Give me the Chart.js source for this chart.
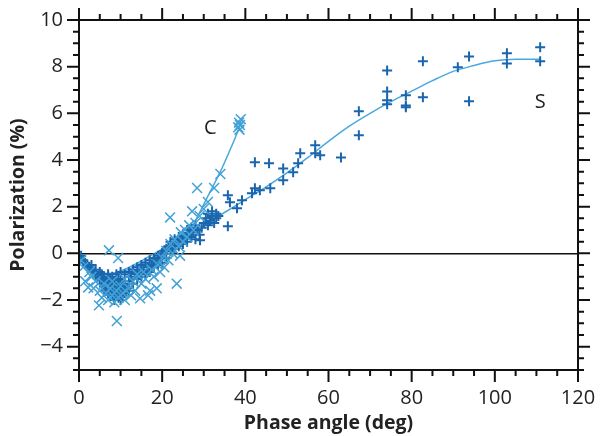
<!DOCTYPE html>
<html><head><meta charset="utf-8">
<script src="https://cdn.jsdelivr.net/npm/chart.js@4/dist/chart.umd.min.js"></script>
<style>html,body{margin:0;padding:0;background:#fff}#w{width:600px;height:436px}</style>
</head><body><div id="w"><canvas id="c" width="600" height="436"></canvas></div>
<script>
// ---- data (phase angle deg, polarization %) ----
const cPoints = [[0.5,-0.3],[1,-0.6],[1.5,-1.2],[2.2,-1.46],[2.5,-0.8],[3,-1.0],[3.5,-1.5],[4,-1.2],[4.8,-2.23],[5,-1.6],[5.5,-1.9],[6,-1.3],[6.5,-1.7],[7,-2.0],[7.2,0.13],[7.5,-1.5],[8,-1.8],[8,-1.2],[8.5,-2.1],[9,-1.6],[9.1,-2.9],[9.4,-0.2],[9.5,-1.9],[10,-1.4],[10.5,-1.7],[11,-2.0],[11,-1.1],[12,-1.5],[12.5,-1.8],[13,-1.2],[13.5,-1.6],[14,-0.9],[14.7,-1.93],[15,-1.3],[15.5,-0.8],[16,-1.1],[16.6,-1.8],[17.1,-1.6],[17.5,-0.7],[18,-1.0],[18.7,-1.5],[19,-0.5],[19.5,-0.8],[20,-0.2],[20.5,-0.6],[21,0.1],[21.5,-0.3],[21.9,1.54],[22,0.4],[22.5,0.0],[23,0.6],[23.5,-1.3],[24,0.3],[24.3,-0.1],[24.5,0.9],[25,0.5],[25.5,1.0],[26,0.7],[26.5,1.2],[27.2,1.8],[27.5,1.0],[28.4,2.8],[28,1.3],[29,1.6],[30,1.9],[31,2.2],[32.5,2.8],[34,3.4],[38.3,5.4],[38.5,5.6],[38.7,5.5],[38.9,5.75],[38.6,5.3]];
const sPoints = [[0.5,-0.1],[1,-0.3],[1.5,-0.4],[2,-0.5],[2.5,-0.6],[3,-0.7],[3,-0.5],[3.5,-0.8],[4,-0.7],[4,-0.9],[4.5,-1.0],[5,-0.8],[5,-1.1],[5.5,-0.9],[5.5,-1.3],[6,-1.0],[6,-1.4],[6.5,-1.2],[6.5,-1.6],[7,-0.9],[7,-1.3],[7,-1.7],[7.5,-1.1],[7.5,-1.5],[8,-1.0],[8,-1.4],[8,-1.8],[8.5,-1.2],[8.5,-1.6],[8.5,-2.0],[9,-0.9],[9,-1.3],[9,-1.7],[9.5,-1.1],[9.5,-1.5],[9.5,-1.9],[10,-0.8],[10,-1.2],[10,-1.6],[10,-2.0],[10.5,-1.4],[10.5,-1.8],[11,-0.9],[11,-1.3],[11,-1.7],[11.5,-1.5],[12,-0.8],[12,-1.2],[12,-1.6],[12.5,-1.0],[13,-0.7],[13,-1.3],[13.5,-0.9],[14,-0.6],[14,-1.1],[14.5,-0.8],[15,-0.5],[15,-1.0],[15.5,-0.7],[16,-0.4],[16,-0.9],[16.5,-0.6],[17,-0.3],[17,-0.8],[17.5,-0.5],[18,-0.2],[18,-0.6],[18.5,-0.4],[19,-0.1],[19,-0.5],[19.5,-0.2],[20,0.0],[20,-0.4],[20.5,0.1],[21,0.2],[21,-0.2],[21.5,0.3],[22,0.1],[22,0.5],[22.5,0.3],[23,0.6],[23,0.2],[23.5,0.5],[24,0.7],[24,0.3],[24.5,0.6],[25,0.8],[25,0.4],[25.5,0.7],[26,1.0],[26,0.5],[26.5,0.8],[27,1.1],[27,0.7],[27.5,0.9],[28,1.2],[28,0.6],[28.5,1.0],[29,0.8],[29.1,0.56],[29.5,1.1],[30,1.3],[30.5,1.5],[31,1.7],[31,1.2],[31.5,1.4],[32,1.6],[32,1.8],[32.5,1.3],[33,1.5],[33,1.7],[33.5,1.6],[35.8,1.16],[35.8,2.49],[36.3,2.19],[38,1.93],[39.2,2.27],[41.6,2.57],[42.3,2.79],[43.5,2.7],[46,2.79],[42.3,3.9],[45.7,3.86],[49.1,3.64],[49.1,3.13],[51.5,3.47],[52.7,3.86],[53.2,4.29],[56.8,4.63],[56.8,4.29],[58,4.2],[63,4.11],[67.3,6.09],[67.3,5.06],[74.1,7.84],[74.1,6.94],[74.1,6.56],[74.1,6.39],[78.6,6.77],[78.6,6.34],[78.6,6.26],[82.7,8.23],[82.7,6.69],[91.1,7.97],[93.8,8.44],[93.8,6.52],[102.9,8.57],[102.9,8.14],[110.9,8.83],[110.9,8.23]];
const cFitX = [0,2,4,6,8,10,12,14,16,18,20,22,24,26,28,30,32,34,36,38,39];
const cFitY = [0,-0.5,-0.8,-0.9,-0.9,-0.82,-0.68,-0.5,-0.32,-0.14,0.05,0.25,0.5,0.9,1.4,2.1,2.8,3.5,4.3,5.15,5.65];
const sFitX = [0,2,4,6,8,10,12,14,16,18,20,22,25,30,35,40,45,50,55,60,65,70,75,80,85,90,95,100,105,111];
const sFitY = [0,-0.45,-0.75,-0.85,-0.85,-0.75,-0.6,-0.42,-0.22,-0.02,0.18,0.38,0.7,1.2,1.75,2.3,2.85,3.45,4.1,4.8,5.45,6.0,6.5,6.95,7.4,7.8,8.05,8.25,8.32,8.32];
const xTickLabels = ['0','20','40','60','80','100','120'];
const yTickLabels = ['\u22124','\u22122','0','2','4','6','8','10'];
const seriesLabels = [['C',31.6,5.36],['S',110.9,6.47]];

const toXY = a => a.map(p => ({x:p[0], y:p[1]}));
const zip = (xs, ys) => xs.map((x,i) => ({x, y: ys[i]}));
const FONT = '"Open Sans", "Noto Sans", sans-serif';

const framePlugin = {
  id:'frame',
  afterDraw(chart){
    const {ctx, chartArea:a, scales:{x, y}} = chart;
    ctx.save();
    ctx.strokeStyle = '#111'; ctx.lineWidth = 2;
    ctx.strokeRect(a.left, a.top, a.right - a.left, a.bottom - a.top);
    ctx.beginPath();
    for (let v = 0; v <= 120; v += 5) {
      const px = x.getPixelForValue(v), L = v % 20 === 0 ? 12 : 6;
      ctx.moveTo(px, a.bottom); ctx.lineTo(px, a.bottom + L);
      ctx.moveTo(px, a.top); ctx.lineTo(px, a.top - L);
    }
    for (let v = -5; v <= 10; v += 0.5) {
      const py = y.getPixelForValue(v), L = (v % 2 === 0) ? 12 : 6;
      ctx.moveTo(a.left, py); ctx.lineTo(a.left - L, py);
      ctx.moveTo(a.right, py); ctx.lineTo(a.right + L, py);
    }
    ctx.stroke();
    ctx.fillStyle = '#222'; ctx.font = '20px ' + FONT;
    ctx.textAlign = 'center'; ctx.textBaseline = 'middle';
    seriesLabels.forEach(([t, vx, vy]) => ctx.fillText(t, x.getPixelForValue(vx), y.getPixelForValue(vy)));
    ctx.restore();
  }
};

new Chart(document.getElementById('c'), {
  type:'scatter',
  data:{datasets:[
    {label:'C', data:toXY(cPoints), pointStyle:'crossRot', pointRadius:7, borderColor:'#42a2d6', borderWidth:1.5, showLine:false},
    {label:'S', data:toXY(sPoints), pointStyle:'cross', pointRadius:5, borderColor:'#1a66ae', borderWidth:2, showLine:false},
    {label:'C fit', data:zip(cFitX,cFitY), showLine:true, pointRadius:0, borderColor:'#4aa8de', borderWidth:1.5, cubicInterpolationMode:'monotone'},
    {label:'S fit', data:zip(sFitX,sFitY), showLine:true, pointRadius:0, borderColor:'#4aa8de', borderWidth:1.5, cubicInterpolationMode:'monotone'}
  ]},
  options:{
    responsive:false, animation:false, devicePixelRatio:1,
    layout:{padding:{left:0, top:20, right:22, bottom:0}},
    plugins:{legend:{display:false}, tooltip:{enabled:false}},
    scales:{
      x:{type:'linear', min:0, max:120,
        afterFit: s => { s.height = 66; },
        ticks:{stepSize:20, padding:4, color:'#222', font:{family:FONT, size:20},
          callback:(v) => { const i = xTickLabels.indexOf(String(v)); return i >= 0 ? xTickLabels[i] : ''; }},
        grid:{color:'transparent', tickColor:'transparent', tickLength:12},
        border:{display:false},
        title:{display:true, text:'Phase angle (deg)', color:'#222', font:{family:FONT, size:19.5, weight:'bold'}, padding:{top:1, bottom:1}}
      },
      y:{type:'linear', min:-5, max:10,
        afterFit: s => { s.width = 79; },
        ticks:{stepSize:2, padding:4, color:'#222', font:{family:FONT, size:20},
          callback:(v) => (v % 2 === 0) ? yTickLabels[(v + 4) / 2] : ''},
        grid:{color: c => (c.tick && c.tick.value === 0) ? '#111' : 'transparent', lineWidth:1.5, tickColor:'transparent', tickLength:12},
        border:{display:false},
        title:{display:true, text:'Polarization (%)', color:'#222', font:{family:FONT, size:19.5, weight:'bold'}, padding:{top:7, bottom:7}}
      }
    }
  },
  plugins:[framePlugin]
});
</script></body></html>
